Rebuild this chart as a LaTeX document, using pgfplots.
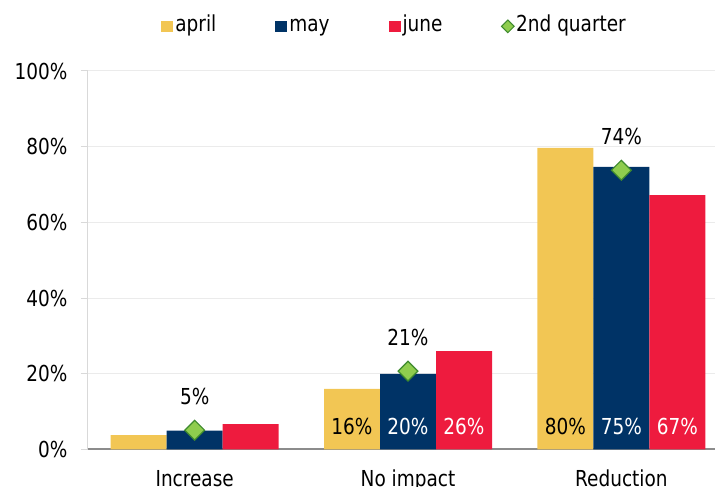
\documentclass[border=0pt]{standalone}
\usepackage{pgfplots}
\pgfplotsset{compat=1.18}
\usepackage{fontspec}
\setmainfont{DejaVu Sans}[FakeStretch=0.84]
\definecolor{cApr}{HTML}{F2C654}
\definecolor{cMay}{HTML}{003366}
\definecolor{cJun}{HTML}{EE1B3E}
\definecolor{cQfill}{HTML}{8FCD4E}
\definecolor{cQdraw}{HTML}{3E8A2E}
\definecolor{cGrid}{HTML}{EBEBEB}
\definecolor{cYax}{HTML}{D9D9D9}
\definecolor{cXax}{HTML}{8C8C8C}
\newcommand{\fs}{\fontsize{22}{26}\selectfont}
\begin{document}
\fs
\begin{tikzpicture}
\useasboundingbox (-88pt,-37.5pt) rectangle (627pt,449.5pt);
\begin{axis}[
  at={(0pt,0pt)}, anchor=origin,
  scale only axis, width=627pt, height=378.5pt,
  xmin=0, xmax=2.939, ymin=0, ymax=100,
  axis x line=bottom, axis y line=left, axis line style={-},
  x axis line style={draw=cXax, line width=2pt},
  y axis line style={draw=cYax, line width=1pt},
  clip=false,
  ytick={0,20,40,60,80,100},
  yticklabel={\pgfmathprintnumber{\tick}\%},
  /pgf/number format/assume math mode=true,
  ymajorgrids, grid style={draw=cGrid, line width=1pt},
  tick align=outside,
  ytick style={draw=cYax, line width=1pt},
  major tick length=7pt,
  yticklabel style={font=\fs, xshift=-6pt},
  xtick={0.5,1.5,2.5},
  xticklabels={Increase,No impact,Reduction},
  xtick style={draw=none},
  xticklabel style={font=\fs, anchor=base, yshift=-30pt},
  extra x ticks={0,1,2},
  extra x tick labels={},
  extra x tick style={tick style={draw=cXax, line width=1.5pt}, major tick length=7pt},
  legend columns=4,
  legend style={draw=none, fill=none, at={(0.489,1.118)}, anchor=center,
    font=\fs,
    nodes={text height=15pt, text depth=5pt},
    /tikz/every even column/.append style={column sep=57pt},
    inner sep=0pt, cells={anchor=west}},
  legend image code/.code={\fill[#1] (0pt,-5.5pt) rectangle (12pt,5.5pt);},
]
\addplot[ybar, bar width=56pt, bar shift=0pt, fill=cApr, draw=none]
  coordinates {(0.2375,3.8) (1.2375,16) (2.2375,79.7)};
\addlegendentry{april}
\addplot[ybar, bar width=56pt, bar shift=0pt, fill=cMay, draw=none]
  coordinates {(0.5,5.0) (1.5,20) (2.5,74.7)};
\addlegendentry{may}
\addplot[ybar, bar width=56pt, bar shift=0pt, fill=cJun, draw=none]
  coordinates {(0.7625,6.7) (1.7625,26) (2.7625,67.2)};
\addlegendentry{june}
\addplot[only marks, mark=square*, mark size=7pt, mark options={rotate=45, fill=cQfill, draw=cQdraw, line width=1.2pt},
  nodes near coords, point meta=explicit symbolic,
  nodes near coords style={anchor=base, yshift=26pt, text=black, font=\fs},
  legend image code/.code={\draw[mark=square*, mark size=4.5pt, mark options={rotate=45, fill=cQfill, draw=cQdraw, line width=1pt}] plot coordinates {(6pt,0pt)};}]
  coordinates {(0.5,5.1)[5\%] (1.5,20.7)[21\%] (2.5,73.8)[74\%]};
\addlegendentry{2nd quarter}
% inner bar labels
\addplot[draw=none, mark=none, forget plot, nodes near coords, point meta=explicit symbolic,
  nodes near coords style={anchor=base, yshift=14.5pt, text=black, font=\fs}]
  coordinates {(1.2375,0)[16\%] (2.2375,0)[80\%]};
\addplot[draw=none, mark=none, forget plot, nodes near coords, point meta=explicit symbolic,
  nodes near coords style={anchor=base, yshift=14.5pt, text=white, font=\fs}]
  coordinates {(1.5,0)[20\%] (2.5,0)[75\%] (1.7625,0)[26\%] (2.7625,0)[67\%]};
\end{axis}
\end{tikzpicture}
\end{document}
